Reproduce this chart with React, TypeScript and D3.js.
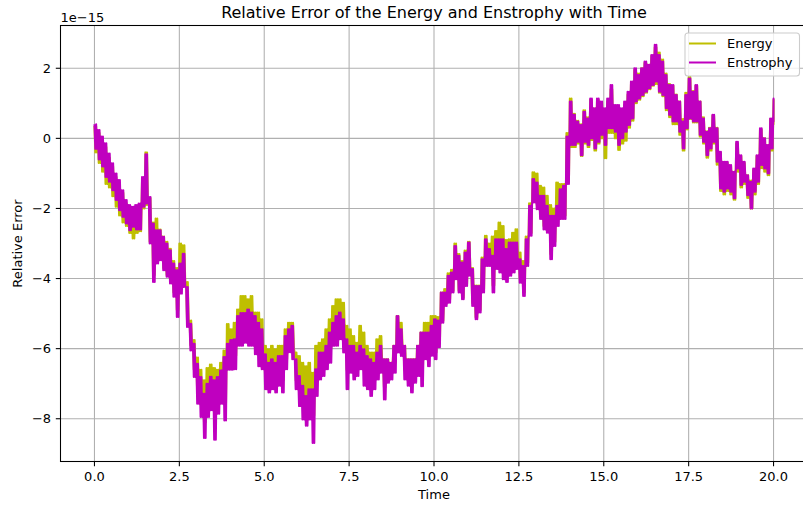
import React from 'react';
import * as d3 from 'd3';

// ---------------- data (values in units of 1e-15) ----------------
const timeStep = 0.1; // sampling step of the arrays below, t = 0 .. 20
const xTickValues = [0, 2.5, 5, 7.5, 10, 12.5, 15, 17.5, 20];
const yTickValues = [-8, -6, -4, -2, 0, 2];
const seriesNames = ['Energy', 'Enstrophy'];

const energyHigh = [
  0.35, 0.15, -0.05, -0.25, -0.55, -0.80, -1.10, -1.30, -1.55, -1.85,
  -2.00, -2.05, -2.00, -1.95, -1.20, -0.40, -1.70, -2.40, -2.29, -2.60,
  -2.80, -2.95, -3.15, -3.50, -3.70, -3.00, -3.05, -4.10, -5.20, -5.75,
  -6.25, -6.60, -6.90, -6.55, -6.45, -6.55, -6.60, -6.40, -6.05, -5.30,
  -5.45, -5.26, -4.88, -4.50, -4.50, -4.59, -4.50, -4.97, -4.97, -5.16,
  -5.92, -6.02, -5.92, -6.02, -5.92, -5.92, -5.45, -5.26, -5.26, -6.11,
  -6.21, -6.40, -6.50, -6.40, -6.69, -5.92, -5.83, -5.73, -5.45, -5.16,
  -4.78, -4.59, -4.59, -4.69, -5.35, -5.45, -5.64, -5.83, -5.35, -5.54,
  -5.92, -6.11, -6.11, -5.73, -5.64, -6.30, -6.30, -6.40, -5.92, -5.07,
  -5.26, -5.92, -6.30, -6.30, -6.30, -5.92, -5.54, -5.26, -5.26, -5.07,
  -5.07, -5.10, -4.40, -4.30, -3.85, -3.75, -3.00, -3.30, -3.50, -3.20,
  -2.95, -3.70, -4.20, -4.20, -3.40, -2.78, -3.00, -2.80, -2.64, -2.40,
  -2.50, -2.90, -2.88, -2.69, -2.59, -3.26, -3.50, -2.80, -1.85, -0.97,
  -1.00, -1.35, -1.40, -1.64, -1.90, -2.00, -1.26, -1.30, -1.30, 0.15,
  1.14, 0.70, 0.50, 0.40, 0.80, 0.60, 1.10, 0.85, 1.10, 1.00,
  0.80, 1.05, 1.40, 0.90, 0.85, 0.80, 0.95, 1.25, 1.55, 1.95,
  1.85, 2.00, 2.15, 2.10, 2.35, 2.60, 2.45, 2.25, 1.85, 1.55,
  1.50, 1.25, 1.05, 0.55, 1.30, 1.75, 1.35, 1.50, 1.05, 0.60,
  0.20, 0.30, 0.65, 0.30, -0.40, -0.70, -0.70, -0.80, -0.95, -0.15,
  -0.50, -0.70, -1.05, -1.20, -0.90, -0.50, 0.25, 0.00, -0.20, 0.55,
  1.10,
];

const energyLow = [
  -0.40, -0.70, -0.95, -1.30, -1.40, -1.65, -1.95, -2.20, -2.40, -2.50,
  -2.70, -2.86, -2.70, -2.65, -2.00, -1.90, -2.95, -3.90, -3.45, -3.40,
  -3.70, -3.90, -4.05, -4.40, -4.90, -4.20, -4.10, -5.20, -5.90, -6.60,
  -7.30, -7.60, -8.10, -7.60, -7.40, -8.00, -7.50, -7.30, -7.60, -6.30,
  -6.30, -6.20, -5.60, -5.50, -5.45, -5.50, -5.50, -5.80, -6.10, -6.20,
  -6.80, -6.90, -6.80, -6.90, -6.70, -6.90, -6.30, -5.85, -6.00, -6.90,
  -7.20, -7.50, -7.60, -7.50, -7.90, -6.90, -6.50, -6.40, -6.20, -6.00,
  -5.50, -5.50, -5.35, -5.70, -6.60, -6.30, -6.50, -6.40, -6.20, -6.60,
  -6.80, -6.95, -6.85, -6.55, -6.40, -7.10, -6.70, -6.60, -6.40, -5.80,
  -5.95, -6.60, -6.80, -6.95, -6.70, -6.50, -6.60, -6.00, -6.20, -5.95,
  -6.10, -5.85, -5.20, -4.70, -4.60, -4.35, -3.95, -4.35, -4.55, -4.15,
  -3.90, -4.70, -5.10, -4.90, -4.30, -3.55, -3.55, -4.20, -3.60, -3.60,
  -3.80, -3.90, -3.80, -3.60, -3.50, -4.00, -4.40, -3.55, -2.70, -1.75,
  -1.90, -2.20, -2.50, -2.50, -3.30, -2.95, -2.30, -2.20, -2.20, -1.25,
  -0.25, -0.25, -0.15, -0.50, -0.15, -0.25, -0.05, -0.35, -0.15, 0.00,
  -0.57, 0.15, 0.15, 0.00, -0.33, -0.15, -0.07, 0.30, 0.50, 1.00,
  1.10, 1.20, 1.30, 1.40, 1.50, 1.55, 1.30, 1.20, 0.80, 0.60,
  0.40, 0.40, 0.10, -0.35, 0.25, 0.55, 0.45, 0.45, 0.05, -0.15,
  -0.55, -0.35, -0.15, -0.75, -1.50, -1.60, -1.50, -1.60, -1.75, -0.95,
  -1.40, -1.30, -1.70, -2.00, -1.60, -1.30, -0.85, -0.95, -1.05, -0.35,
  0.40,
];

const enstrophyHigh = [
  0.40, 0.24, 0.05, -0.14, -0.43, -0.71, -1.00, -1.19, -1.48, -1.76,
  -1.90, -1.95, -1.90, -1.86, -1.10, -0.45, -1.67, -2.43, -2.62, -2.62,
  -2.81, -3.00, -3.19, -3.57, -3.76, -3.57, -3.29, -4.24, -5.29, -5.86,
  -6.43, -6.81, -7.29, -7.00, -6.80, -6.90, -6.81, -6.62, -6.24, -5.86,
  -5.75, -5.73, -5.07, -4.98, -4.98, -4.88, -4.97, -5.07, -5.26, -5.45,
  -6.16, -6.40, -6.30, -6.40, -6.21, -6.21, -5.64, -5.45, -5.35, -6.30,
  -6.78, -7.06, -7.35, -7.16, -7.16, -6.59, -6.11, -6.11, -5.92, -5.54,
  -5.26, -5.07, -4.97, -5.16, -5.73, -5.92, -5.92, -6.11, -5.92, -6.02,
  -6.21, -6.30, -6.40, -6.11, -5.92, -6.30, -6.30, -6.40, -5.92, -5.07,
  -5.45, -5.92, -6.30, -6.30, -6.30, -5.92, -5.54, -5.54, -5.54, -5.35,
  -5.16, -5.20, -4.40, -4.40, -3.92, -3.83, -3.07, -3.35, -3.54, -3.26,
  -2.97, -3.73, -4.21, -4.21, -3.45, -2.88, -3.16, -3.35, -2.88, -2.88,
  -2.88, -3.16, -2.97, -2.97, -2.97, -3.45, -3.64, -2.88, -1.92, -1.16,
  -1.26, -1.64, -1.64, -1.92, -2.21, -2.21, -1.92, -1.45, -1.35, 0.05,
  1.05, 0.67, 0.48, 0.38, 0.76, 0.57, 1.14, 0.86, 1.14, 1.05,
  0.86, 1.14, 1.52, 0.95, 0.95, 0.86, 1.05, 1.33, 1.62, 2.00,
  1.81, 2.00, 2.19, 2.10, 2.38, 2.67, 2.38, 2.19, 1.81, 1.52,
  1.52, 1.24, 1.05, 0.48, 1.24, 1.71, 1.33, 1.52, 1.05, 0.57,
  0.19, 0.29, 0.67, 0.29, -0.38, -0.67, -0.67, -0.76, -0.95, -0.10,
  -0.48, -0.67, -1.05, -1.24, -0.86, -0.48, 0.29, 0.00, -0.19, 0.57,
  1.14,
];

const enstrophyLow = [
  -0.30, -0.60, -0.80, -1.10, -1.24, -1.48, -1.76, -2.05, -2.24, -2.43,
  -2.62, -2.52, -2.60, -2.60, -1.95, -1.86, -3.00, -4.10, -3.57, -3.48,
  -3.76, -3.95, -4.14, -4.52, -5.10, -4.43, -4.24, -5.38, -6.05, -6.81,
  -7.57, -7.95, -8.55, -7.95, -7.76, -8.60, -7.86, -7.57, -8.05, -6.60,
  -6.60, -6.59, -5.92, -5.92, -5.83, -5.92, -5.92, -6.16, -6.50, -6.59,
  -7.16, -7.25, -7.16, -7.25, -7.06, -7.25, -6.59, -6.10, -6.30, -7.16,
  -7.64, -8.02, -8.20, -8.02, -8.69, -7.35, -6.88, -6.78, -6.59, -6.40,
  -5.92, -5.92, -5.73, -6.11, -7.16, -6.69, -6.88, -6.78, -6.59, -7.06,
  -7.16, -7.35, -7.16, -6.88, -6.69, -7.45, -6.97, -6.88, -6.69, -6.11,
  -6.21, -6.88, -7.06, -7.25, -6.97, -6.78, -7.07, -6.30, -6.50, -6.20,
  -6.30, -5.96, -5.26, -4.78, -4.69, -4.40, -4.02, -4.40, -4.59, -4.21,
  -3.92, -4.78, -5.16, -4.97, -4.40, -3.64, -3.64, -4.40, -3.73, -3.83,
  -4.02, -4.10, -3.92, -3.83, -3.73, -4.12, -4.50, -3.64, -2.78, -1.83,
  -2.02, -2.30, -2.60, -2.69, -3.45, -3.07, -2.50, -2.30, -2.30, -1.30,
  -0.19, -0.19, -0.10, -0.48, -0.10, -0.19, 0.00, -0.29, -0.10, 0.10,
  -0.19, 0.29, 0.29, 0.19, -0.19, 0.00, 0.19, 0.38, 0.57, 1.05,
  1.14, 1.24, 1.33, 1.43, 1.52, 1.62, 1.33, 1.24, 0.86, 0.67,
  0.48, 0.48, 0.19, -0.29, 0.29, 0.57, 0.48, 0.48, 0.10, -0.10,
  -0.48, -0.29, -0.10, -0.67, -1.43, -1.52, -1.43, -1.52, -1.71, -0.86,
  -1.33, -1.24, -1.62, -2.00, -1.52, -1.24, -0.76, -0.86, -1.00, -0.29,
  0.48,
];

// ---------------- layout ----------------
const W = 803;
const H = 510;
const AX = { left: 60.5, right: 807.5, top: 25.5, bottom: 461.5 };
const FONT = "'DejaVu Sans', sans-serif";
const COLORS = ['#bfbf00', '#bf00bf'];
const tMax = (enstrophyHigh.length - 1) * timeStep;
const oscillationsPerStep = 2; // the recorded signal flips between its peak and trough many times per step

// Build one trace that swings between the read peak and trough within each sampling step.
function buildTrace(high: number[], low: number[]): [number, number][] {
  const pts: [number, number][] = [];
  const sub = timeStep / (2 * oscillationsPerStep);
  high.forEach((h, i) => {
    const t = i * timeStep;
    for (let k = 0; k < oscillationsPerStep; k++) {
      pts.push([Math.min(t + 2 * k * sub, tMax), h]);
      pts.push([Math.min(t + (2 * k + 1) * sub, tMax), low[i]]);
    }
  });
  return pts;
}

const fmtX = (v: number) => v.toFixed(1);
const fmtY = (v: number) => (v < 0 ? '\u2212' + Math.abs(v) : String(v));

export default function App() {
  const x = d3.scaleLinear().domain([-1, 21]).range([AX.left, AX.right]);
  const y = d3.scaleLinear().domain([-9.22, 3.22]).range([AX.bottom, AX.top]);
  const line = d3
    .line<[number, number]>()
    .x((d) => x(d[0]))
    .y((d) => y(d[1]));

  const traces = [buildTrace(energyHigh, energyLow), buildTrace(enstrophyHigh, enstrophyLow)];
  const tickLen = 4.7;
  const midX = (AX.left + AX.right) / 2;

  return (
    <svg
      width={W}
      height={H}
      viewBox={`0 0 ${W} ${H}`}
      style={{ position: 'absolute', left: 0, top: 0, background: '#fff' }}
      fontFamily={FONT}
    >
      <rect x={0} y={0} width={W} height={H} fill="#fff" />
      {/* grid */}
      <g stroke="#b0b0b0" strokeWidth={1.07}>
        {xTickValues.map((v) => (
          <line key={'gx' + v} x1={x(v)} x2={x(v)} y1={AX.top} y2={AX.bottom} />
        ))}
        {yTickValues.map((v) => (
          <line key={'gy' + v} x1={AX.left} x2={AX.right} y1={y(v)} y2={y(v)} />
        ))}
      </g>
      <defs>
        <clipPath id="plotclip">
          <rect x={AX.left} y={AX.top} width={AX.right - AX.left} height={AX.bottom - AX.top} />
        </clipPath>
      </defs>
      {/* series */}
      <g clipPath="url(#plotclip)" fill="none" strokeWidth={2} strokeLinejoin="round">
        {traces.map((tr, i) => (
          <path key={seriesNames[i]} d={line(tr) || ''} stroke={COLORS[i]} />
        ))}
      </g>
      {/* spines */}
      <rect
        x={AX.left}
        y={AX.top}
        width={AX.right - AX.left}
        height={AX.bottom - AX.top}
        fill="none"
        stroke="#000"
        strokeWidth={1.07}
      />
      {/* ticks and labels */}
      <g fontSize={13} fill="#000">
        {xTickValues.map((v) => (
          <g key={'tx' + v}>
            <line x1={x(v)} x2={x(v)} y1={AX.bottom} y2={AX.bottom + tickLen} stroke="#000" strokeWidth={1.07} />
            <text x={x(v)} y={AX.bottom + 19} textAnchor="middle">
              {fmtX(v)}
            </text>
          </g>
        ))}
        {yTickValues.map((v) => (
          <g key={'ty' + v}>
            <line x1={AX.left - tickLen} x2={AX.left} y1={y(v)} y2={y(v)} stroke="#000" strokeWidth={1.07} />
            <text x={AX.left - tickLen - 4.7} y={y(v) + 4.7} textAnchor="end">
              {fmtY(v)}
            </text>
          </g>
        ))}
        <text x={AX.left} y={21.5} textAnchor="start">
          1e{'\u2212'}15
        </text>
        <text x={midX} y={499} textAnchor="middle">
          Time
        </text>
        <text transform={`translate(22, ${(AX.top + AX.bottom) / 2}) rotate(-90)`} textAnchor="middle">
          Relative Error
        </text>
      </g>
      <text x={midX} y={17.5} fontSize={16} textAnchor="middle" fill="#000">
        Relative Error of the Energy and Enstrophy with Time
      </text>
      {/* legend */}
      <g>
        <rect x={685} y={33} width={114.5} height={43} rx={3} fill="#fff" fillOpacity={0.8} stroke="#cccccc" strokeWidth={1.07} />
        {seriesNames.map((name, i) => (
          <g key={'lg' + name}>
            <line x1={689} x2={716} y1={43.5 + i * 19} y2={43.5 + i * 19} stroke={COLORS[i]} strokeWidth={2} />
            <text x={727} y={48.2 + i * 19} fontSize={13} fill="#000">
              {name}
            </text>
          </g>
        ))}
      </g>
    </svg>
  );
}
